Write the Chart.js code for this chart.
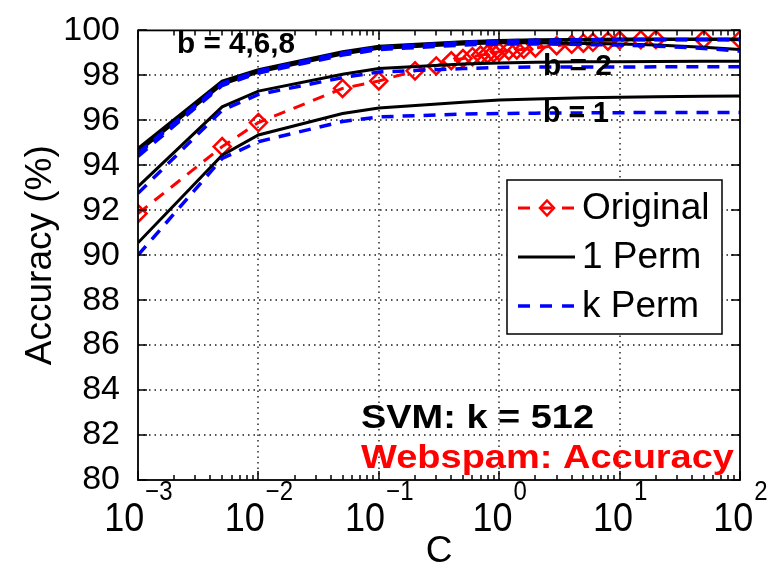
<!DOCTYPE html>
<html>
<head>
<meta charset="utf-8">
<script src="https://cdn.jsdelivr.net/npm/chart.js@4.4.1/dist/chart.umd.min.js"></script>
<style>
  html, body { margin: 0; padding: 0; background: #fff; }
  #chart { display: block; }
</style>
</head>
<body>
<canvas id="chart" width="769" height="571"></canvas>
<script>
'use strict';

/* ========================================================
   Data
   ======================================================== */
const cOriginal = [0.001, 0.005, 0.01, 0.05, 0.1, 0.2, 0.3, 0.4, 0.5, 0.6, 0.7, 0.8, 0.9, 1,
                   1.2, 1.4, 1.6, 2, 3, 4, 5, 6, 8, 10, 15, 20, 50, 100];
const accOriginal = [91.85, 94.83, 95.9, 97.42, 97.75, 98.2, 98.42, 98.65, 98.75, 98.83, 98.9, 98.95, 99.0, 99.05,
                     99.1, 99.13, 99.16, 99.22, 99.32, 99.38, 99.43, 99.47, 99.52, 99.56, 99.58, 99.6, 99.6, 99.58];

const cPerm = [0.001, 0.005, 0.01, 0.05, 0.1, 0.5, 1, 2, 5, 10, 20, 50, 100];
// 1 Perm (black solid)
const onePermB1 = [90.55, 94.45, 95.35, 96.3, 96.55, 96.8, 96.9, 96.95, 97.0, 97.03, 97.05, 97.07, 97.08];
const onePermB2 = [93.05, 96.6, 97.3, 98.05, 98.3, 98.5, 98.55, 98.58, 98.6, 98.6, 98.62, 98.63, 98.63];
const onePermB4 = [94.6, 97.6, 98.15, 98.95, 99.2, 99.4, 99.45, 99.45, 99.42, 99.4, 99.35, 99.25, 99.15];
const onePermB6 = [94.7, 97.7, 98.2, 99.0, 99.25, 99.45, 99.52, 99.55, 99.58, 99.6, 99.6, 99.6, 99.6];
const onePermB8 = [94.75, 97.75, 98.25, 99.05, 99.3, 99.5, 99.55, 99.58, 99.6, 99.62, 99.62, 99.62, 99.62];
// k Perm (blue dashed)
const kPermB1 = [90.0, 94.3, 95.05, 95.95, 96.15, 96.28, 96.3, 96.32, 96.33, 96.34, 96.35, 96.35, 96.35];
const kPermB2 = [92.75, 96.45, 97.15, 97.9, 98.15, 98.3, 98.35, 98.37, 98.37, 98.37, 98.38, 98.38, 98.38];
const kPermB4 = [94.4, 97.55, 98.1, 98.9, 99.15, 99.35, 99.4, 99.4, 99.37, 99.35, 99.3, 99.2, 99.08];
const kPermB6 = [94.5, 97.6, 98.15, 98.95, 99.2, 99.42, 99.5, 99.53, 99.56, 99.58, 99.58, 99.58, 99.58];
const kPermB8 = [94.55, 97.65, 98.2, 99.0, 99.25, 99.47, 99.53, 99.56, 99.58, 99.6, 99.6, 99.6, 99.6];

const xTickValues = [0.001, 0.01, 0.1, 1, 10, 100];
const xTickExps = ['\u22123', '\u22122', '\u22121', '0', '1', '2'];
const yTickValues = [80, 82, 84, 86, 88, 90, 92, 94, 96, 98, 100];

const legendLabels = ['Original', '1 Perm', 'k Perm'];

/* ========================================================
   Styles
   ======================================================== */
const FONT = "'Liberation Sans', Arial, Helvetica, sans-serif";
const RED = '#ff0000';
const BLUE = '#0000ff';
const BLACK = '#000000';
const DASH = [12, 9];

const pts = (xs, ys) => xs.map((x, i) => ({ x, y: ys[i] }));

const blackLine = data => ({
  data: pts(cPerm, data), borderColor: BLACK, borderWidth: 3, pointRadius: 0,
  tension: 0, fill: false, order: 1
});
const blueLine = data => ({
  data: pts(cPerm, data), borderColor: BLUE, borderWidth: 3.5, borderDash: DASH, pointRadius: 0,
  tension: 0, fill: false, order: 0
});

/* ========================================================
   Plugin: grid, frame, ticks, labels, annotations, legend
   ======================================================== */
function drawFitted(ctx, text, x, y, font, width, color, sy = 1) {
  ctx.save();
  ctx.font = font;
  ctx.fillStyle = color;
  ctx.textAlign = 'left';
  ctx.textBaseline = 'alphabetic';
  const w = ctx.measureText(text).width;
  ctx.translate(x, y);
  ctx.scale(width / w, sy);
  ctx.fillText(text, 0, 0);
  ctx.restore();
}

const matlabAxes = {
  id: 'matlabAxes',
  beforeDatasetsDraw(chart) {
    // dotted grid on major ticks
    const { ctx, chartArea: a, scales: { x, y } } = chart;
    ctx.save();
    ctx.strokeStyle = '#1a1a1a';
    ctx.lineWidth = 1.4;
    ctx.setLineDash([1.5, 4]);
    ctx.beginPath();
    xTickValues.slice(1, -1).forEach(v => {
      const px = Math.round(x.getPixelForValue(v));
      ctx.moveTo(px, a.bottom); ctx.lineTo(px, a.top);
    });
    yTickValues.slice(1, -1).forEach(v => {
      const py = Math.round(y.getPixelForValue(v));
      ctx.moveTo(a.left, py); ctx.lineTo(a.right, py);
    });
    ctx.stroke();
    ctx.restore();
  },
  afterDatasetsDraw(chart) {
    const { ctx, chartArea: a, scales: { x, y } } = chart;
    ctx.save();
    ctx.strokeStyle = BLACK;
    ctx.lineWidth = 1.5;
    ctx.setLineDash([]);

    // minor ticks on log axis (top & bottom)
    ctx.beginPath();
    for (let d = 0; d < xTickValues.length - 1; d++) {
      for (let m = 2; m <= 9; m++) {
        const px = Math.round(x.getPixelForValue(xTickValues[d] * m));
        ctx.moveTo(px, a.bottom); ctx.lineTo(px, a.bottom - 5);
        ctx.moveTo(px, a.top); ctx.lineTo(px, a.top + 5);
      }
    }
    // major ticks
    xTickValues.forEach(v => {
      const px = Math.round(x.getPixelForValue(v));
      ctx.moveTo(px, a.bottom); ctx.lineTo(px, a.bottom - 9);
      ctx.moveTo(px, a.top); ctx.lineTo(px, a.top + 9);
    });
    yTickValues.forEach(v => {
      const py = Math.round(y.getPixelForValue(v));
      ctx.moveTo(a.left, py); ctx.lineTo(a.left + 9, py);
      ctx.moveTo(a.right, py); ctx.lineTo(a.right - 9, py);
    });
    ctx.stroke();

    // frame
    ctx.lineWidth = 1.8;
    ctx.strokeRect(a.left, a.top, a.right - a.left, a.bottom - a.top);
    ctx.restore();
  },
  afterDraw(chart) {
    const { ctx, chartArea: a, scales: { x } } = chart;
    ctx.save();
    ctx.fillStyle = BLACK;
    ctx.textBaseline = 'alphabetic';

    // x tick labels 10^n
    xTickValues.forEach((v, i) => {
      const px = x.getPixelForValue(v);
      ctx.font = '36px ' + FONT;
      const wb = ctx.measureText('10').width;
      ctx.font = '24px ' + FONT;
      const we = ctx.measureText(xTickExps[i]).width;
      const left = px - (wb + we) / 2;
      ctx.save();
      ctx.translate(left, 531);
      ctx.scale(1, 1.12);
      ctx.font = '36px ' + FONT;
      ctx.fillText('10', 0, 0);
      ctx.restore();
      ctx.save();
      ctx.translate(left + wb + 1, 500);
      ctx.scale(1, 1.12);
      ctx.font = '24px ' + FONT;
      ctx.fillText(xTickExps[i], 0, 0);
      ctx.restore();
    });

    // axis titles
    ctx.font = '37px ' + FONT;
    ctx.textAlign = 'center';
    ctx.fillText('C', (a.left + a.right) / 2, 562);
    ctx.save();
    ctx.translate(51, (a.top + a.bottom) / 2);
    ctx.rotate(-Math.PI / 2);
    ctx.fillText('Accuracy (%)', 0, 0);
    ctx.restore();

    // annotations
    const bold = 'bold 29px ' + FONT;
    drawFitted(ctx, 'b = 4,6,8', 177, 53, bold, 118, BLACK);
    drawFitted(ctx, 'b = 2', 543, 75, bold, 69, BLACK);
    drawFitted(ctx, 'b = 1', 543, 122, bold, 66, BLACK);
    drawFitted(ctx, 'SVM: k = 512', 361, 428, 'bold 31px ' + FONT, 233, BLACK, 1.08);
    drawFitted(ctx, 'Webspam: Accuracy', 361, 468, 'bold 31px ' + FONT, 373, RED, 1.08);

    // legend box
    const lx = 507, ly = 180, lw = 215, lh = 154;
    ctx.fillStyle = '#fff';
    ctx.fillRect(lx, ly, lw, lh);
    ctx.strokeStyle = BLACK;
    ctx.lineWidth = 1.5;
    ctx.strokeRect(lx, ly, lw, lh);

    const rows = [208, 257, 306];
    const styles = [
      { color: RED, width: 3, dash: [12, 10] },
      { color: BLACK, width: 3, dash: [] },
      { color: BLUE, width: 3.5, dash: [12, 10] }
    ];
    rows.forEach((ry, i) => {
      const s = styles[i];
      ctx.beginPath();
      ctx.strokeStyle = s.color;
      ctx.lineWidth = s.width;
      ctx.setLineDash(s.dash);
      ctx.moveTo(518, ry);
      ctx.lineTo(575, ry);
      ctx.stroke();
      ctx.setLineDash([]);
      ctx.fillStyle = BLACK;
      ctx.font = '37px ' + FONT;
      ctx.textAlign = 'left';
      ctx.textBaseline = 'middle';
      ctx.fillText(legendLabels[i], 582, ry + 1);
    });
    // diamond marker for Original
    ctx.beginPath();
    ctx.strokeStyle = RED;
    ctx.lineWidth = 2.5;
    ctx.moveTo(547, rows[0] - 7.5);
    ctx.lineTo(554, rows[0]);
    ctx.lineTo(547, rows[0] + 7.5);
    ctx.lineTo(540, rows[0]);
    ctx.closePath();
    ctx.stroke();
    ctx.restore();
  }
};

/* ========================================================
   Chart
   ======================================================== */
new Chart(document.getElementById('chart'), {
  type: 'line',
  data: {
    datasets: [
      {
        label: legendLabels[0],
        data: pts(cOriginal, accOriginal),
        borderColor: RED, borderWidth: 3, borderDash: DASH,
        pointStyle: 'rectRot', pointRadius: 8.5, pointBorderWidth: 2.5,
        pointBorderColor: RED, pointBackgroundColor: 'rgba(0,0,0,0)',
        tension: 0, fill: false, order: 2
      },
      blackLine(onePermB1), blackLine(onePermB2), blackLine(onePermB4), blackLine(onePermB6), blackLine(onePermB8),
      blueLine(kPermB1), blueLine(kPermB2), blueLine(kPermB4), blueLine(kPermB6), blueLine(kPermB8)
    ]
  },
  options: {
    responsive: false,
    animation: false,
    devicePixelRatio: 1,
    layout: { padding: { top: 24, right: 29, left: 0, bottom: 0 } },
    plugins: { legend: { display: false }, tooltip: { enabled: false } },
    scales: {
      x: {
        type: 'logarithmic',
        min: 0.001, max: 100,
        afterBuildTicks: s => { s.ticks = xTickValues.map(v => ({ value: v })); },
        afterFit: s => { s.height = 91; },
        ticks: { display: false },
        grid: { display: false },
        border: { display: false }
      },
      y: {
        min: 80, max: 100,
        afterBuildTicks: s => { s.ticks = yTickValues.map(v => ({ value: v })); },
        afterFit: s => { s.width = 138; },
        ticks: { color: BLACK, padding: 10, font: { family: FONT, size: 34 } },
        grid: { display: false },
        border: { display: false }
      }
    }
  },
  plugins: [matlabAxes]
});
</script>
</body>
</html>
